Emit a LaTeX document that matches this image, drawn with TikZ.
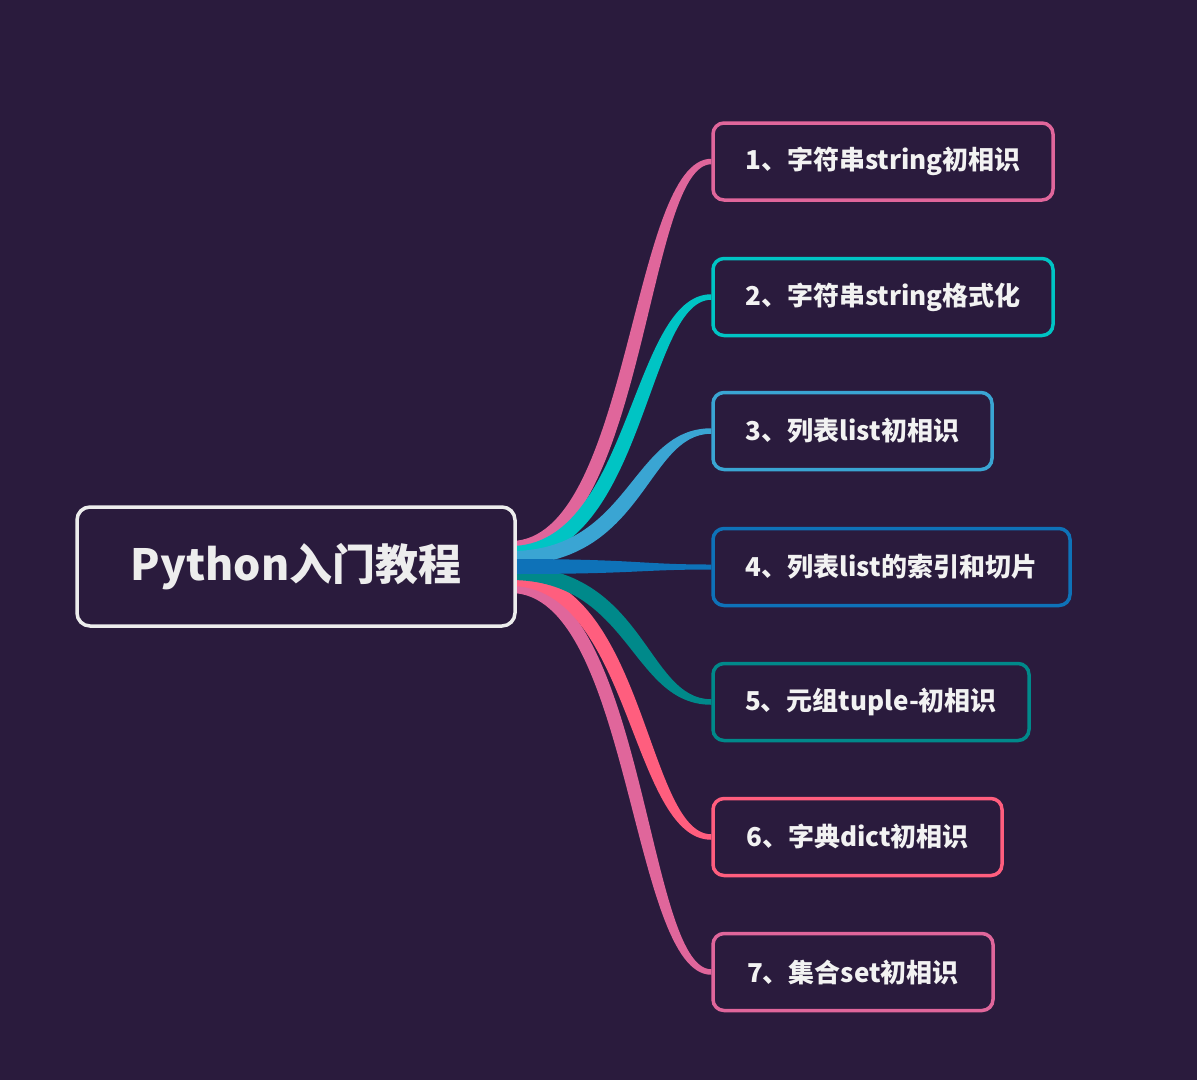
\documentclass[tikz,border=0pt]{standalone}
\usepackage{fontspec}
\setmainfont{Noto Sans CJK SC}
\usetikzlibrary{calc,backgrounds}
\definecolor{bg}{HTML}{2A1B3D}
\definecolor{txt}{HTML}{F2F2F2}
\definecolor{cwhite}{HTML}{EDEDED}
\definecolor{cpink}{HTML}{E0669B}
\definecolor{ccyan}{HTML}{00C4C4}
\definecolor{clblue}{HTML}{3AA5D3}
\definecolor{cblue}{HTML}{0E72B8}
\definecolor{cteal}{HTML}{00898A}
\definecolor{ccoral}{HTML}{FF5E7E}
% #1 colour, #2 root coordinate, #3 end coordinate, #4 root width, #5 end width, #6 sign
\newcommand\branch[6]{%
  \fill[#1] ($(#2)+(0,{-#4/2})$)
    .. controls ($(#2)+({127-(#6)*(#4+#5)/2.6},{-#4/2})$) and ($(#3)+({-73-(#6)*(#4+#5)/2.6},{-#5/2})$)
    .. ($(#3)+(0,{-#5/2})$) -- ($(#3)+(0,{#5/2})$)
    .. controls ($(#3)+({-73+(#6)*(#4+#5)/2.6},{#5/2})$) and ($(#2)+({127+(#6)*(#4+#5)/2.6},{#4/2})$)
    .. ($(#2)+(0,{#4/2})$) -- cycle;}
\begin{document}
\begin{tikzpicture}[x=1pt,y=-1pt,
  box/.style={draw, line width=3.5pt, rounded corners=11pt, fill=bg,
    minimum height=77pt, inner sep=0pt, text=txt,
    font=\bfseries\fontsize{26}{30}\selectfont},
  root/.style={draw=cwhite, line width=3.5pt, rounded corners=13pt, fill=bg,
    minimum width=438pt, minimum height=119pt, inner sep=0pt, text=cwhite,
    font=\bfseries\fontsize{43}{50}\selectfont}]
\useasboundingbox (0,0) rectangle (1197,1080);
\node[root] (c) at (296,566.5) {Python入门教程};
\node[box, draw=cpink, minimum width=340pt] (b1) at (883,161.5) {1、字符串string初相识};
\node[box, draw=ccyan, minimum width=340pt] (b2) at (883,297) {2、字符串string格式化};
\node[box, draw=clblue, minimum width=279pt] (b3) at (852.5,431) {3、列表list初相识};
\node[box, draw=cblue, minimum width=357pt] (b4) at (891.5,567) {4、列表list的索引和切片};
\node[box, draw=cteal, minimum width=316pt] (b5) at (871,702) {5、元组tuple-初相识};
\node[box, draw=ccoral, minimum width=289pt] (b6) at (857.5,837) {6、字典dict初相识};
\node[box, draw=cpink, minimum width=280pt] (b7) at (853,972) {7、集合set初相识};
\begin{scope}[on background layer]
\fill[bg] (0,0) rectangle (1197,1080);
\coordinate (r1) at ($(c.east)+(-6,-18.5)$);
\coordinate (r2) at ($(c.east)+(-6,-13.5)$);
\coordinate (r3) at ($(c.east)+(-6,-8.5)$);
\coordinate (r4) at ($(c.east)+(-6,0)$);
\coordinate (r5) at ($(c.east)+(-6,6.5)$);
\coordinate (r6) at ($(c.east)+(-6,12.5)$);
\coordinate (r7) at ($(c.east)+(-6,19.5)$);
\branch{cpink}{r7}{b7.west}{14}{5.5}{-1}
\branch{ccoral}{r6}{b6.west}{14}{5.5}{-1}
\branch{cteal}{r5}{b5.west}{14}{5.5}{-1}
\branch{cpink}{r1}{b1.west}{14}{5.5}{1}
\branch{ccyan}{r2}{b2.west}{14}{5.5}{1}
\branch{clblue}{r3}{b3.west}{14}{5.5}{1}
\branch{cblue}{r4}{b4.west}{15}{5}{0}
\end{scope}
\end{tikzpicture}
\end{document}
